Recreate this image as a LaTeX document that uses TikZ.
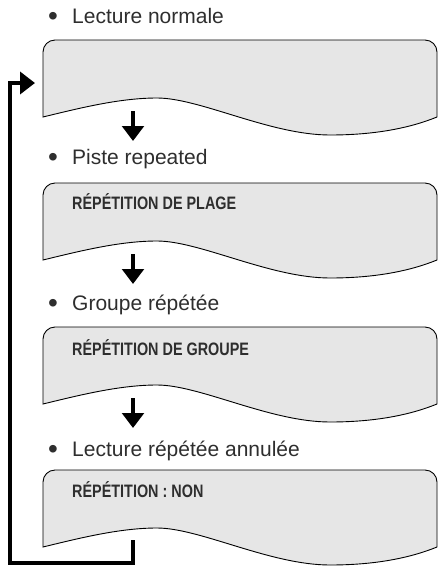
\documentclass[tikz,border=0pt]{standalone}
\usepackage{fontspec}
\setmainfont{Liberation Sans}
\newfontfamily\condfont[FakeStretch=0.8]{Liberation Sans}
\usetikzlibrary{arrows.meta}
\definecolor{boxgray}{HTML}{E6E6E6}
\definecolor{txtgray}{HTML}{2E2E2E}
\newcommand\bigbul{\raisebox{-2.6pt}{\fontsize{28}{28}\selectfont •}}
\tikzset{
  screenpath/.style={draw=black, line width=0.9pt, fill=boxgray},
  screen/.pic={
    \draw[screenpath] (43,77) -- (43,12) .. controls (43,5.4) and (48.4,0) .. (55,0)
      -- (425,0) .. controls (431.6,0) and (437,5.4) .. (437,12) -- (437,77)
      .. controls (410,88) and (375,95) .. (330,95)
      .. controls (270,95) and (200,58) .. (157,58)
      .. controls (120,58) and (80,68) .. (43,77) -- cycle;
    \coordinate (-arrowtop) at (133,71);
    \coordinate (-arrowtip) at (133,101);
    \coordinate (-entry) at (35,43);
    \coordinate (-stub) at (133,70);
  },
  bulletlabel/.style={anchor=base west, inner sep=0pt, text=txtgray,
    font=\fontsize{21}{24}\selectfont},
  boxtext/.style={anchor=base west, inner sep=0pt, text=txtgray,
    font=\condfont\bfseries\fontsize{18}{20}\selectfont},
  downarrow/.style={line width=4.5pt, -{Triangle[width=21.5pt,length=15pt]}},
  looparrow/.style={line width=4.3pt, line join=miter, -{Triangle[width=22pt,length=15pt]}}
}
\begin{document}
\begin{tikzpicture}[x=1pt,y=-1pt]
\useasboundingbox (0,0) rectangle (444,568);

\pic (b1) at (0,40) {screen};
\pic (b2) at (0,183) {screen};
\pic (b3) at (0,327) {screen};
\pic (b4) at (0,470) {screen};

\node[bulletlabel] (l1) at (48,23) {\bigbul\hspace{14.2pt}Lecture normale};
\node[bulletlabel] (l2) at (48,164) {\bigbul\hspace{14.2pt}Piste repeated};
\node[bulletlabel] (l3) at (48,310) {\bigbul\hspace{14.2pt}Groupe répétée};
\node[bulletlabel] (l4) at (48,456) {\bigbul\hspace{14.2pt}Lecture répétée annulée};

\node[boxtext] (t2) at (72,209) {RÉPÉTITION DE PLAGE};
\node[boxtext] (t3) at (72,355) {RÉPÉTITION DE GROUPE};
\node[boxtext] (t4) at (72,497) {RÉPÉTITION : NON};

\draw[downarrow] (b1-arrowtop) -- (b1-arrowtip);
\draw[downarrow] (b2-arrowtop) -- (b2-arrowtip);
\draw[downarrow] (b3-arrowtop) -- (b3-arrowtip);

\coordinate (loopbl) at (10,563);
\draw[looparrow] (b4-stub) |- (loopbl) |- (b1-entry);
\end{tikzpicture}
\end{document}
